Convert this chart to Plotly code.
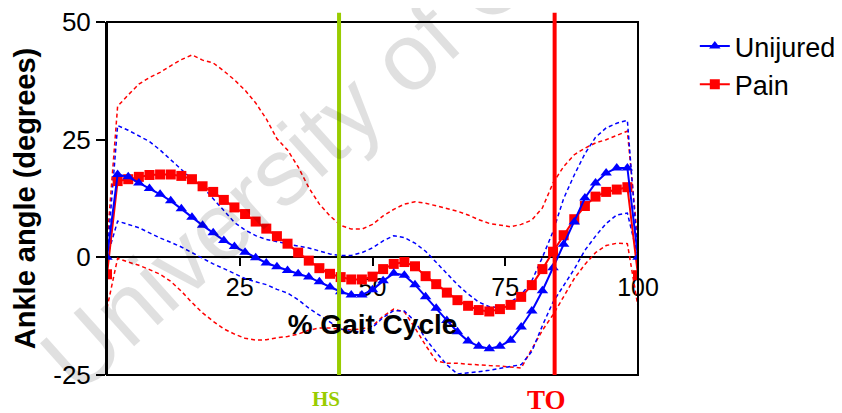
import plotly.graph_objects as go

# % gait cycle, every 2 %
gait = list(range(0, 101, 2))

unijured_mean = [0, 17.6, 17.1, 15.8, 14.6, 13.4, 12.0, 10.3, 8.5, 6.8, 5.2, 3.6, 2.3, 1.1, -0.1, -1.2,
                 -2.0, -2.8, -3.5, -4.2, -5.2, -6.3, -7.3, -8.0, -8.0, -6.9, -5.0, -3.4, -3.8, -5.8, -8.4,
                 -10.8, -13.4, -15.8, -17.8, -18.9, -19.4, -18.9, -17.6, -14.8, -11.4, -7.1, -2.2, 2.8,
                 7.5, 12.6, 15.8, 17.9, 19.0, 19.0, 0]
unijured_upper = [0, 28.0, 27.0, 25.8, 24.6, 22.8, 20.8, 18.6, 16.6, 15.0, 12.4, 9.8, 7.4, 5.8, 4.6, 3.8,
                  3.3, 2.9, 2.4, 2.0, 1.4, 0.7, 0.4, 0.4, 1.0, 2.0, 3.5, 4.6, 4.2, 3.0, 1.3,
                  -1.0, -3.5, -5.8, -7.8, -9.5, -10.5, -10.7, -9.5, -8.0, -5.0, 0.0, 5.5, 12.5,
                  17.5, 22.0, 25.5, 27.5, 28.5, 29.1, 0]
unijured_lower = [0, 7.7, 7.0, 6.3, 5.2, 4.1, 3.2, 2.2, 1.0, -0.2, -1.4, -2.4, -3.5, -4.5, -5.2, -5.8,
                  -6.8, -7.6, -9.0, -10.8, -12.3, -13.8, -15.2, -15.8, -15.8, -14.9, -12.8, -11.3, -11.4,
                  -13.6, -17.3, -20.2, -22.8, -24.8, -24.6, -24.3, -24.0, -23.6, -23.2, -22.8, -20.0,
                  -14.5, -9.5, -6.0, -2.5, 1.5, 4.5, 7.2, 9.0, 9.4, 0]

pain_mean = [-3.6, 16.2, 16.6, 17.1, 17.5, 17.6, 17.6, 17.3, 16.6, 15.1, 13.9, 12.2, 10.6, 9.2, 7.6, 6.1,
             4.5, 2.9, 1.0, -0.7, -2.3, -3.5, -4.2, -4.7, -4.7, -4.1, -2.5, -1.4, -1.0, -1.9, -4.0,
             -5.7, -7.5, -9.1, -10.3, -11.2, -11.5, -11.0, -10.1, -8.4, -5.9, -2.5, 1.2, 4.7, 8.1,
             10.9, 12.9, 13.9, 14.4, 14.9, -3.8]
pain_upper = [3, 32.1, 34.5, 36.8, 38.2, 39.3, 40.7, 42.0, 43.0, 41.9, 41.3, 39.6, 37.7, 35.5, 32.8, 29.4,
              25.2, 22.8, 19.2, 14.8, 11.3, 8.8, 6.8, 6.0, 6.0, 7.0, 8.8, 10.2, 11.3, 11.8, 11.5,
              10.9, 10.4, 9.8, 9.0, 8.0, 7.2, 6.9, 6.5, 7.0, 7.9, 10.5, 15.8, 19.3, 21.8,
              23.2, 24.3, 25.0, 25.9, 26.8, 3]
pain_lower = [-10.8, -0.2, -1.0, -1.7, -2.6, -3.6, -5.1, -7.2, -9.6, -11.8, -13.6, -15.2, -16.3, -17.2,
              -17.6, -17.5, -17.1, -16.8, -16.3, -15.5, -15.0, -15.0, -15.3, -15.4, -15.2, -14.6, -12.5,
              -11.0, -11.6, -15.0, -18.7, -22.0, -22.5, -22.5, -22.7, -22.9, -23.0, -23.1, -23.3,
              -23.5, -19.5, -15.5, -12.2, -8.5, -4.5, -1.5, 1.0, 2.5, 3.0, 2.9, -10.5]

y_ticks = [-25, 0, 25, 50]
y_ticktext = ["-25", "0", "25", "50"]
x_ticks = [25, 50, 75, 100]

# heel strike / toe off (% gait cycle)
hs_x = 43.7
to_x = 84.3

BLUE = "#0000FF"
RED = "#FF0000"
GREEN = "#99CC00"

fig = go.Figure()

# SD bands
for ys, col in [(pain_upper, RED), (pain_lower, RED), (unijured_upper, BLUE), (unijured_lower, BLUE)]:
    fig.add_trace(go.Scatter(x=gait, y=ys, mode="lines", showlegend=False, hoverinfo="skip",
                             line=dict(color=col, width=1.5, dash="4px,3px")))

fig.add_trace(go.Scatter(x=gait, y=pain_mean, name="Pain", mode="lines+markers", legendrank=2,
                         line=dict(color=RED, width=2),
                         marker=dict(symbol="square", size=10, color=RED)))
fig.add_trace(go.Scatter(x=gait, y=unijured_mean, name="Unijured", mode="lines+markers", legendrank=1,
                         line=dict(color=BLUE, width=2),
                         marker=dict(symbol="triangle-up", size=10, color=BLUE)))

# plot frame
fig.add_shape(type="rect", xref="paper", yref="paper", x0=0, x1=1, y0=0, y1=1,
              line=dict(color="black", width=2), layer="above")
# HS / TO event lines
fig.add_shape(type="line", xref="x", yref="paper", x0=hs_x, x1=hs_x, y0=0, y1=1.026,
              line=dict(color=GREEN, width=4))
fig.add_shape(type="line", xref="x", yref="paper", x0=to_x, x1=to_x, y0=0, y1=1.026,
              line=dict(color=RED, width=4))

fig.add_annotation(x=hs_x, y=-0.068, xref="x", yref="paper", text="<b>HS</b>", showarrow=False,
                   xshift=-13, yanchor="middle",
                   font=dict(family="Liberation Serif", size=21, color=GREEN))
fig.add_annotation(x=to_x, y=-0.072, xref="x", yref="paper", text="<b>TO</b>", showarrow=False,
                   xshift=-8, yanchor="middle",
                   font=dict(family="Liberation Serif", size=27, color=RED))

# watermark
fig.add_annotation(x=0.62, y=0.977, xref="paper", yref="paper", text="University of Cape Town",
                   showarrow=False, textangle=-42, xanchor="center", yanchor="middle",
                   font=dict(family="Liberation Sans", size=95, color="rgba(0,0,0,0.12)"))

# page body has an 8px margin, so the figure is 8px smaller and margins shifted
fig.update_layout(
    width=834, height=405,
    margin=dict(l=99, r=204, t=14, b=38, autoexpand=False),
    plot_bgcolor="rgba(0,0,0,0)", paper_bgcolor="white",
    font=dict(family="Liberation Sans", color="black"),
    legend=dict(x=1.107, y=1.0, xanchor="left", yanchor="top", font=dict(size=27)),
    xaxis=dict(range=[0, 100], anchor="free", position=1/3, tickvals=x_ticks,
               showline=True, linecolor="black", linewidth=2, ticks="outside", ticklen=8,
               tickwidth=2, tickcolor="black", tickfont=dict(size=25), showgrid=False,
               zeroline=False, layer="below traces", automargin=False,
               title=dict(text="<b>% Gait Cycle</b>", font=dict(size=28), standoff=13)),
    yaxis=dict(range=[-25, 50], tickvals=y_ticks, ticktext=y_ticktext, showline=True,
               linecolor="black", linewidth=2, ticks="outside", ticklen=9, tickwidth=2,
               tickcolor="black", tickfont=dict(size=26), showgrid=False, zeroline=False,
               automargin=False, ticklabeloverflow="allow",
               title=dict(text="<b>Ankle angle (degrees)</b>", font=dict(size=29), standoff=9)),
)

fig.write_html("out.html")
